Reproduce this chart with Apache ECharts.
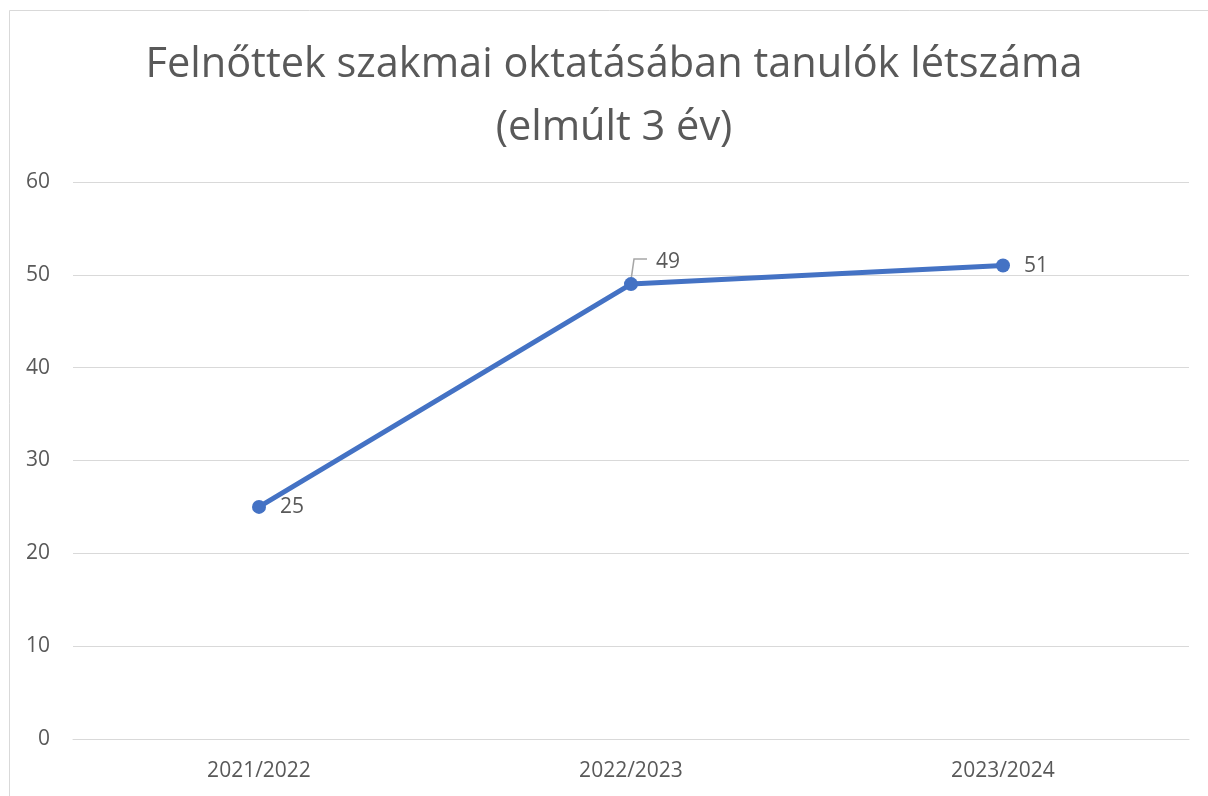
<!DOCTYPE html>
<html>
<head>
<meta charset="utf-8">
<script src="https://cdn.jsdelivr.net/npm/echarts@6/dist/echarts.min.js"></script>
<style>
html,body{margin:0;padding:0;background:#fff;}
#c{width:1208px;height:796px;}
</style>
</head>
<body>
<div id="c"></div>
<script>
var titleText = 'Felnőttek szakmai oktatásában tanulók létszáma\n(elmúlt 3 év)';
var categories = ['2021/2022', '2022/2023', '2023/2024'];
var values = [25, 49, 51];
var yTicks = [0, 10, 20, 30, 40, 50, 60];

var font = 'Open Sans';
var txt = '#595959';
var chart = echarts.init(document.getElementById('c'), null, {renderer: 'canvas'});
var option = {
  animation: false,
  backgroundColor: '#fff',
  graphic: [{
    id: 'border', type: 'rect', z: -1, silent: true,
    shape: {x: 9.5, y: 10.5, width: 1400, height: 1000},
    style: {fill: 'none', stroke: '#d9d9d9', lineWidth: 1}
  }],
  title: {
    text: titleText,
    left: 609, top: 29, textAlign: 'center',
    textStyle: {fontFamily: font, fontSize: 41.5, fontWeight: 'normal', color: txt, lineHeight: 63}
  },
  grid: {left: 73, right: 19, top: 182, bottom: 57, containLabel: false},
  xAxis: {
    type: 'category', data: categories, boundaryGap: true,
    axisLine: {show: true, lineStyle: {color: '#d9d9d9', width: 1}},
    axisTick: {show: false},
    axisLabel: {fontFamily: font, fontSize: 21, color: txt, margin: 22}
  },
  yAxis: {
    type: 'value', min: yTicks[0], max: yTicks[yTicks.length - 1], interval: 10,
    axisLine: {show: false}, axisTick: {show: false},
    splitLine: {lineStyle: {color: '#d9d9d9', width: 1}},
    axisLabel: {fontFamily: font, fontSize: 21, color: txt, margin: 23}
  },
  series: [{
    type: 'line',
    data: values,
    lineStyle: {color: '#4472C4', width: 5},
    itemStyle: {color: '#4472C4'},
    symbol: 'circle', symbolSize: 14,
    label: {show: true, position: 'right', distance: 14, fontFamily: font, fontSize: 21, color: txt},
    labelLayout: function (p) {
      if (p.dataIndex !== 1) return {};
      return {dx: 4, dy: -22};
    }
  }]
};
chart.setOption(option);
// leader line for the moved label, anchored at the data point's pixel position
var pt = chart.convertToPixel({seriesIndex: 0}, [1, values[1]]);
chart.setOption({
  graphic: [{
    id: 'leader', type: 'polyline', silent: true, z: 1,
    shape: {points: [[pt[0], pt[1] - 4], [pt[0] + 3, pt[1] - 25], [pt[0] + 16, pt[1] - 25]]},
    style: {fill: 'none', stroke: '#a6a6a6', lineWidth: 1.5}
  }]
});
</script>
</body>
</html>
